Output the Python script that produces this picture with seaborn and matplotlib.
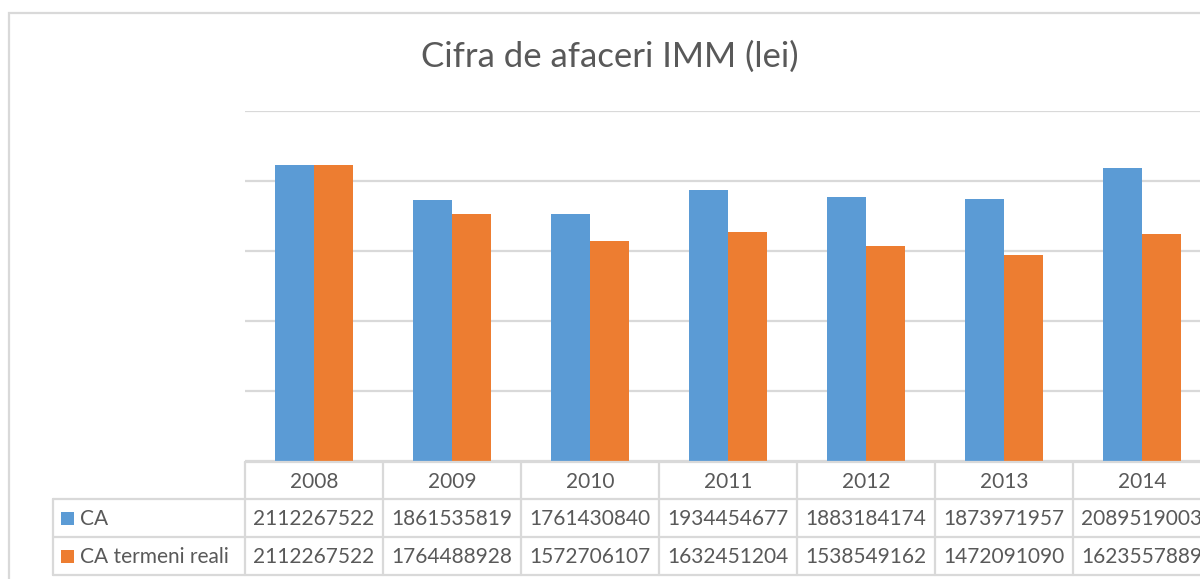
import matplotlib
matplotlib.use("Agg")
import matplotlib.pyplot as plt
from matplotlib.patches import Rectangle
from matplotlib.lines import Line2D
from matplotlib.transforms import blended_transform_factory
import seaborn as sns
import pandas as pd

# Data
years = ["2008", "2009", "2010", "2011", "2012", "2013", "2014"]
ca = [2112267522, 1861535819, 1761430840, 1934454677, 1883184174, 1873971957, 2089519003]
ca_real = [2112267522, 1764488928, 1572706107, 1632451204, 1538549162, 1472091090, 1623557889]
series_names = ["CA", "CA termeni reali"]
title = "Cifra de afaceri IMM (lei)"

BLUE = "#5B9BD5"
ORANGE = "#ED7D31"
GRID = "#D9D9D9"
TEXT = "#595959"

sns.set_theme(style="white")
plt.rcParams["font.family"] = ["Lato", "DejaVu Sans"]

W, H = 1200, 579
fig = plt.figure(figsize=(W / 100, H / 100), dpi=100)

def fx(px):
    return px / W

def fy(py):
    return 1 - py / H

# Plot area: 7 categories of 138 px each, starting at x=245, baseline at y=461
left_px, right_px = 245, 245 + 7 * 138
top_px, bot_px = 111, 461
ax = fig.add_axes([fx(left_px), fy(bot_px), fx(right_px - left_px), (bot_px - top_px) / H])

df = pd.DataFrame({
    "year": years * 2,
    "value": ca + ca_real,
    "series": [series_names[0]] * len(years) + [series_names[1]] * len(years),
})

sns.barplot(data=df, x="year", y="value", hue="series", order=years,
            hue_order=series_names, palette=[BLUE, ORANGE], width=0.572,
            gap=0, linewidth=0, saturation=1, ax=ax, legend=False, zorder=3)

ax.set_xlim(-0.5, len(years) - 0.5)
ax.set_ylim(0, 2.5e9)
ax.set_yticks([i * 5e8 for i in range(6)])
ax.yaxis.grid(True, color=GRID, linewidth=1.6)
ax.set_axisbelow(True)
ax.tick_params(left=False, bottom=False, labelleft=False, labelbottom=False)
ax.set_xlabel("")
ax.set_ylabel("")
for s in ax.spines.values():
    s.set_visible(False)

# Chart outer frame
fig.patches.append(Rectangle((fx(9), fy(700)), 2.0, fy(13) - fy(700),
                             transform=fig.transFigure, fill=False,
                             edgecolor=GRID, linewidth=1.6, clip_on=False))

# Title
fig.text(fx(610), fy(57), title, ha="center", va="center",
         fontsize=25, color=TEXT)

# Data table
bt = blended_transform_factory(ax.transData, fig.transFigure)
ft = fig.transFigure
row_y = [462, 499, 537, 575]
lkw = dict(color=GRID, linewidth=1.6, clip_on=False, zorder=1)

# horizontal rules
fig.add_artist(Line2D([fx(left_px), 1.2], [fy(row_y[0])] * 2, transform=ft, **lkw))
for yy in row_y[1:]:
    fig.add_artist(Line2D([fx(53), 1.2], [fy(yy)] * 2, transform=ft, **lkw))
# vertical rules
for k in range(len(years) + 1):
    fig.add_artist(Line2D([k - 0.5] * 2, [fy(row_y[0]), fy(row_y[3])], transform=bt, **lkw))
fig.add_artist(Line2D([fx(53)] * 2, [fy(row_y[1]), fy(row_y[3])], transform=ft, **lkw))

fs = 15
for i, yr in enumerate(years):
    cy = (row_y[0] + row_y[1]) / 2 + 1
    fig.text(i, fy(cy), yr, transform=bt, ha="center", va="center",
             fontsize=fs, color=TEXT)
    for r, vals in enumerate([ca, ca_real]):
        cy = (row_y[r + 1] + row_y[r + 2]) / 2 + 1
        fig.text(i, fy(cy), str(vals[i]), transform=bt, ha="center",
                 va="center", fontsize=fs, color=TEXT)

# Legend keys inside the table
for r, (name, col) in enumerate(zip(series_names, [BLUE, ORANGE])):
    cy = (row_y[r + 1] + row_y[r + 2]) / 2
    fig.patches.append(Rectangle((fx(61), fy(cy + 7)), fx(13), 13 / H,
                                 transform=ft, facecolor=col, edgecolor="none"))
    fig.text(fx(80), fy(cy + 1), name, ha="left", va="center",
             fontsize=fs, color=TEXT)

fig.savefig("out.png", dpi=100)
